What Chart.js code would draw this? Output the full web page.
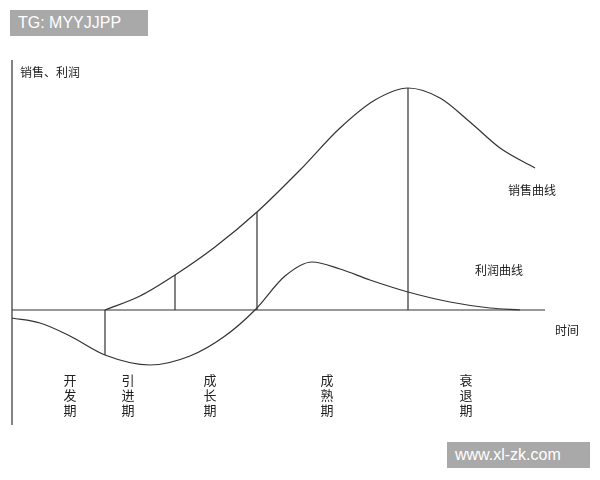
<!DOCTYPE html>
<html>
<head>
<meta charset="utf-8">
<script src="https://cdn.jsdelivr.net/npm/chart.js@4"></script>
<style>
  body { margin: 0; background: #fff; }
  #wrap { width: 600px; height: 480px; position: relative; }
  .mark { position: absolute; background: #a9a9a9; color: #fff; font-family: "Liberation Sans", Arial, sans-serif; font-size: 16px; padding: 4px 8px; }
</style>
</head>
<body>
<div id="wrap">
  <canvas id="chart"></canvas>
  <div class="mark" style="left:10px;top:10px;width:122px;">TG: MYYJJPP</div>
  <div class="mark" style="left:447px;top:442px;width:127px;">www.xl-zk.com</div>
</div>
<script>
// time positions and heights above the time axis
const salesX = [105, 140, 175, 215, 257, 300, 340, 375, 408, 440, 470, 500, 535];
const salesY = [0, 14, 35, 63, 98, 140, 182, 210, 222, 212, 188, 162, 142];
const profitX = [12, 40, 70, 105, 150, 190, 225, 255, 285, 312, 340, 370, 408, 450, 490, 520];
const profitY = [-8, -13, -26, -45, -55, -46, -26, 0, 34, 48, 41, 30, 18, 8, 2, 0];
// stage boundaries (x, bottom, top)
const markX = [105, 175, 257, 408];
const markLow = [-45, 0, 0, 0];
const markHigh = [0, 35, 98, 222];
const stages = ['开发期', '引进期', '成长期', '成熟期', '衰退期'];
const stageX = [70, 128, 210, 327, 466];

const pts = (xs, ys) => xs.map((x, i) => ({ x: x, y: ys[i] }));
const marks = [];
markX.forEach((x, i) => {
    marks.push({ x: x, y: markLow[i] }, { x: x, y: markHigh[i] }, { x: x, y: null });
});

const lineStyle = { borderColor: '#333', borderWidth: 1.2, pointRadius: 0, fill: false };

const labels = {
    id: 'labels',
    afterDatasetsDraw(chart) {
        const { ctx, scales: { x, y } } = chart;
        ctx.save();
        ctx.fillStyle = '#222';
        ctx.font = '12px "Noto Sans CJK SC"';
        ctx.textBaseline = 'middle';
        ctx.fillText('销售、利润', x.getPixelForValue(20), y.getPixelForValue(238));
        ctx.fillText('时间', x.getPixelForValue(555), y.getPixelForValue(-20));
        ctx.fillText('销售曲线', x.getPixelForValue(508), y.getPixelForValue(120));
        ctx.fillText('利润曲线', x.getPixelForValue(475), y.getPixelForValue(40));
        ctx.font = '13px "Noto Sans CJK SC"';
        ctx.textAlign = 'center';
        stages.forEach((s, i) => {
            [...s].forEach((c, j) => {
                ctx.fillText(c, x.getPixelForValue(stageX[i]), y.getPixelForValue(-70 - j * 15));
            });
        });
        ctx.restore();
    }
};

new Chart(document.getElementById('chart'), {
    type: 'line',
    data: {
        datasets: [
            { ...lineStyle, data: pts(salesX, salesY), tension: 0.4, cubicInterpolationMode: 'monotone' },
            { ...lineStyle, data: pts(profitX, profitY), tension: 0.4, cubicInterpolationMode: 'monotone' },
            { ...lineStyle, data: marks, spanGaps: false },
            { ...lineStyle, data: [{ x: 12, y: 0 }, { x: 545, y: 0 }] },
            { ...lineStyle, data: [{ x: 12, y: 250 }, { x: 12, y: -115 }] }
        ]
    },
    options: {
        responsive: true,
        maintainAspectRatio: false,
        animation: false,
        layout: { padding: 0 },
        plugins: { legend: { display: false }, tooltip: { enabled: false } },
        scales: {
            x: { type: 'linear', min: 0, max: 600, display: false },
            y: { type: 'linear', min: -170, max: 310, display: false }
        }
    },
    plugins: [labels]
});
</script>
</body>
</html>
